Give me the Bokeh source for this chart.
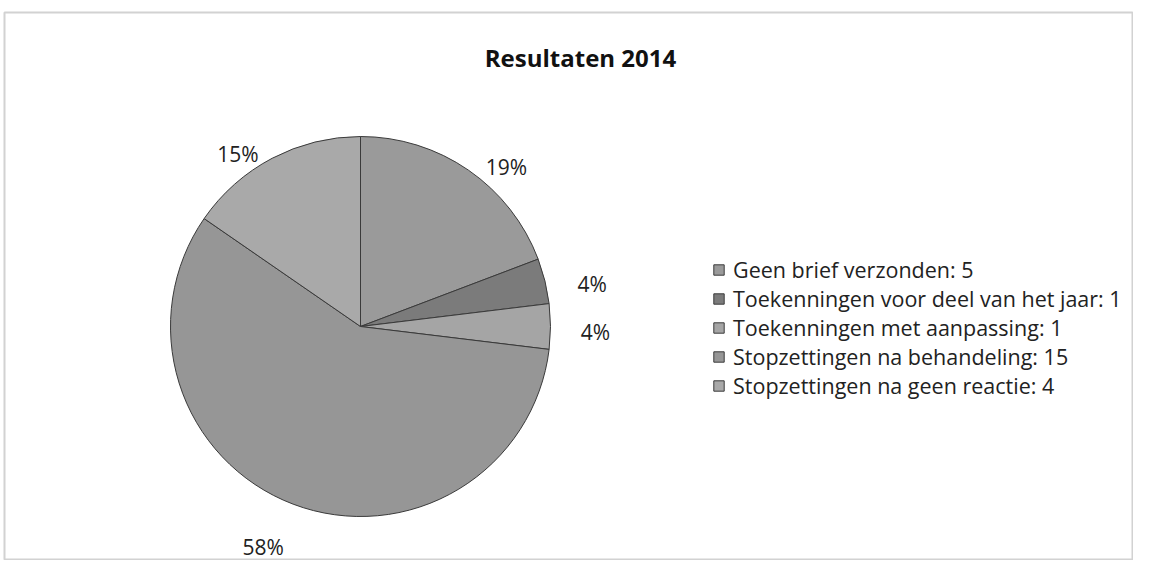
import numpy as np
from bokeh.plotting import figure
from bokeh.models import ColumnDataSource, Legend, LegendItem, Range1d
from bokeh.core.properties import value
from bokeh.embed import file_html
from bokeh.resources import INLINE

# ---- data ----
chart_title = "Resultaten 2014"
categories = [
    "Geen brief verzonden",
    "Toekenningen voor deel van het jaar",
    "Toekenningen met aanpassing",
    "Stopzettingen na behandeling",
    "Stopzettingen na geen reactie",
]
counts = [5, 1, 1, 15, 4]
colors = ["#9a9a9a", "#7b7b7b", "#a5a5a5", "#969696", "#a9a9a9"]

# ---- layout (pixel-like data units) ----
W, H = 1133, 560
BL, BT = 4, 12                     # frame offset (left, top)
cx, cy, r = 360, 234, 190
FONT = "Open Sans"

vals = np.array(counts, dtype=float)
frac = vals / vals.sum()
cum_end = np.cumsum(frac)
cum_start = cum_end - frac
# clockwise from 12 o'clock
start = np.pi / 2 - cum_end * 2 * np.pi
end = np.pi / 2 - cum_start * 2 * np.pi
mid = (start + end) / 2
pct = [f"{round(f * 100):.0f}%" for f in frac]
legend_labels = [f"{c}: {n}" for c, n in zip(categories, counts)]

src = ColumnDataSource(dict(start=start, end=end, color=colors, cat=categories))

p = figure(width=W, height=H, output_backend="svg", toolbar_location=None,
           x_range=Range1d(BL, W), y_range=Range1d(0, H - BT),
           min_border=0, min_border_left=BL, min_border_right=0,
           min_border_top=BT, min_border_bottom=0)
p.axis.visible = False
p.grid.visible = False
p.outline_line_color = "#d2d2d2"
p.outline_line_width = 2
p.background_fill_color = "white"
p.border_fill_color = "white"

wr = p.wedge(x=cx, y=cy, radius=r, start_angle="start", end_angle="end",
             fill_color="color", line_color="#3a3a3a", line_width=1, source=src)

# percentage labels outside the pie
c, s = np.cos(mid), np.sin(mid)
lx = cx + 235 * c + 15 * np.sign(c) * np.abs(s)
ly = cy - 5 + 200 * s + np.minimum(s, 0) * 30
p.text(x=lx, y=ly, text=pct, text_font=value(FONT), text_font_size="21px",
       text_color="#222222", text_align="center", text_baseline="middle")

# title
p.text(x=[580], y=[H - 57], text=[chart_title], text_font=value(FONT),
       text_font_size="24px", text_font_style="bold", text_color="#111111",
       text_align="center", text_baseline="middle")

items = [LegendItem(label=lab, renderers=[wr], index=i) for i, lab in enumerate(legend_labels)]
legend = Legend(items=items, location=(712 - BL, 160), orientation="vertical",
                label_text_font=FONT, label_text_font_size="21.5px",
                label_text_color="#222222",
                glyph_width=13, glyph_height=13, label_standoff=8,
                label_height=24, spacing=0, padding=0, margin=0,
                border_line_color=None, background_fill_alpha=0)
p.add_layout(legend, "center")

open("out.html", "w").write(file_html(p, INLINE))
